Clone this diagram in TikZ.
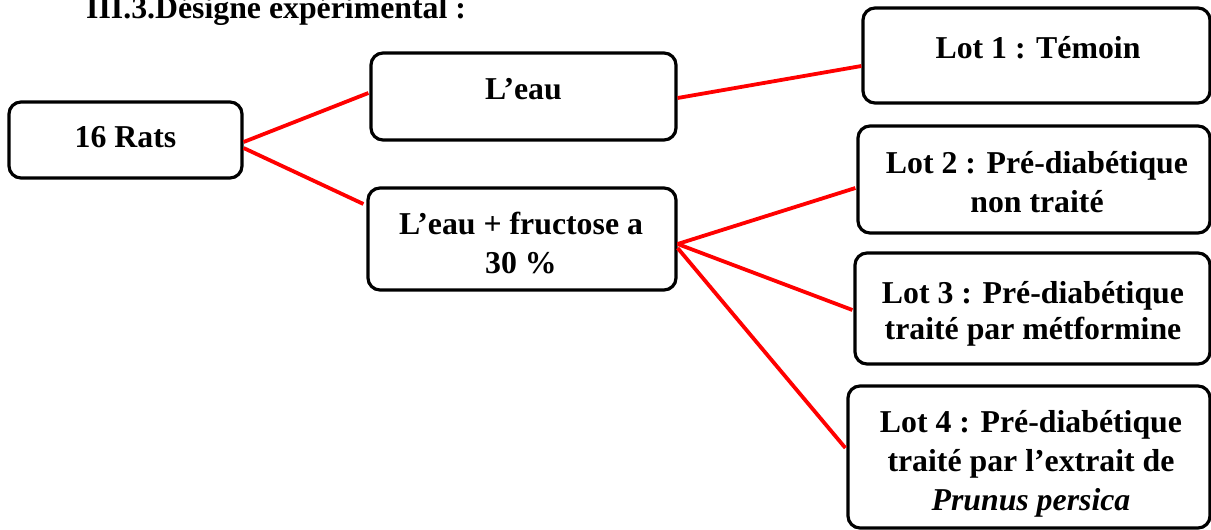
\documentclass[tikz,border=0pt]{standalone}
\usepackage{fontspec}
\setmainfont{Liberation Serif}
\begin{document}
\begin{tikzpicture}[x=1pt,y=-1pt,
  box/.style={draw=black, line width=3.2pt, rounded corners=12pt, fill=white, inner sep=0pt},
  txt/.style={font=\fontsize{31.8}{39}\selectfont\bfseries, inner sep=0pt, align=center},
  link/.style={draw=red, line width=3.8pt}]
\useasboundingbox (0,0) rectangle (1211,530);
% boxes
\node[box, minimum width=233pt, minimum height=76pt]  (rats) at (125.5,140) {};
\node[box, minimum width=305pt, minimum height=87pt]  (leau) at (523.5,96.5) {};
\node[box, minimum width=308pt, minimum height=102pt] (fruc) at (522,239) {};
\node[box, minimum width=347pt, minimum height=95pt]  (lot1) at (1036.5,55.5) {};
\node[box, minimum width=352pt, minimum height=107pt] (lot2) at (1034,179.5) {};
\node[box, minimum width=355pt, minimum height=111pt] (lot3) at (1032.5,308.5) {};
\node[box, minimum width=362pt, minimum height=142pt] (lot4) at (1029,457) {};
% texts (base = baseline of the last line)
\node[txt, anchor=base west] (title) at (86,18) {III.3.Désigne expérimental :};
\node[txt, anchor=base] (ratsT) at (125.5,147) {16 Rats};
\node[txt, anchor=base] (leauT) at (523.5,99) {L’eau};
\node[txt, anchor=base] (frucT) at (521,273) {L’eau + fructose a\\30 \%};
\node[txt, anchor=base] (lot1T) at (1038,58) {Lot 1 : Témoin};
\node[txt, anchor=base] (lot2T) at (1037,212) {Lot 2 : Pré-diabétique\\non traité};
\node[txt, anchor=base, font=\fontsize{31.8}{36}\selectfont\bfseries] (lot3T) at (1033,339) {Lot 3 : Pré-diabétique\\traité par métformine};
\node[txt, anchor=base] (lot4T) at (1031,510) {Lot 4 : Pré-diabétique\\traité par l’extrait de\\\textit{Prunus persica}};
% connectors
\draw[link] ([shift={(0,2)}]rats.east) -- ([shift={(-1,-3.5)}]leau.west);
\draw[link] ([shift={(0,8)}]rats.east) -- ([shift={(-3,-35)}]fruc.west);
\draw[link] ([shift={(0,1.5)}]leau.east) -- ([shift={(0,10.5)}]lot1.west);
\draw[link] ([shift={(0,5)}]fruc.east) -- ([shift={(-1,8.5)}]lot2.west);
\draw[link] ([shift={(0,5)}]fruc.east) -- ([shift={(-1,1.5)}]lot3.west);
\draw[link] ([shift={(0,9)}]fruc.east) -- ([shift={(-1,-9)}]lot4.west);
\end{tikzpicture}
\end{document}
